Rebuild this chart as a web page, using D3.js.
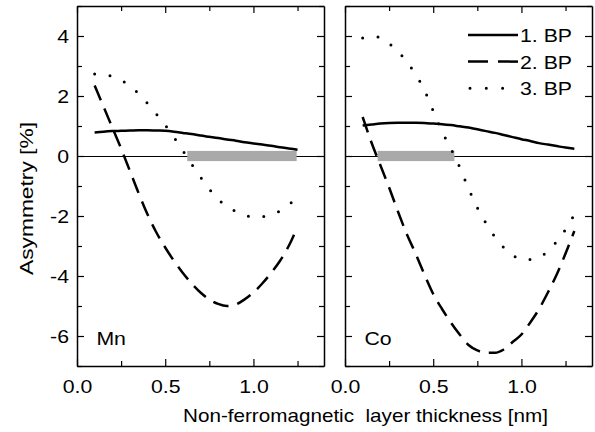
<!DOCTYPE html>
<html>
<head>
<meta charset="utf-8">
<script src="https://cdn.jsdelivr.net/npm/d3@7"></script>
<style>
  body { margin: 0; background: #fff; }
  text { font-family: "Liberation Sans", Arial, Helvetica, sans-serif; fill: #000; }
</style>
</head>
<body>
<svg id="chart" width="595" height="432"></svg>
<script>
// thickness samples [nm]
const thickness = [0.1, 0.15, 0.2, 0.25, 0.3, 0.35, 0.4, 0.45, 0.5, 0.55, 0.6, 0.65,
                   0.7, 0.75, 0.8, 0.85, 0.9, 0.95, 1.0, 1.05, 1.1, 1.15, 1.2, 1.25];
const thicknessCo = thickness.concat([1.3]);

// Mn panel, asymmetry [%]
const mnBP1 = [0.78, 0.81, 0.83, 0.84, 0.85, 0.86, 0.86, 0.85, 0.84, 0.81, 0.77, 0.73,
               0.68, 0.64, 0.6, 0.55, 0.51, 0.46, 0.42, 0.38, 0.34, 0.29, 0.25, 0.21];
const mnBP2 = [2.35, 1.65, 0.95, 0.25, -0.5, -1.25, -1.95, -2.55, -3.05, -3.5, -3.9, -4.25,
               -4.55, -4.78, -4.93, -5.0, -4.95, -4.78, -4.55, -4.25, -3.9, -3.5, -3.0, -2.35];
const mnBP3 = [2.73, 2.71, 2.65, 2.52, 2.35, 2.07, 1.75, 1.4, 1.03, 0.62, 0.18, -0.27,
               -0.7, -1.1, -1.44, -1.68, -1.85, -1.97, -2.03, -2.02, -1.95, -1.83, -1.62, -1.38];

// Co panel, asymmetry [%]
const coBP1 = [1.02, 1.05, 1.08, 1.1, 1.11, 1.11, 1.11, 1.1, 1.08, 1.06, 1.03, 0.99,
               0.95, 0.89, 0.83, 0.77, 0.7, 0.63, 0.56, 0.5, 0.43, 0.38, 0.33, 0.28, 0.24];
const coBP2 = [1.3, 0.45, -0.3, -1.05, -1.85, -2.6, -3.25, -3.95, -4.6, -5.1, -5.55, -5.95,
               -6.3, -6.48, -6.56, -6.56, -6.45, -6.2, -5.95, -5.55, -5.1, -4.55, -3.95, -3.25, -2.5];
const coBP3 = [3.93, 3.98, 3.95, 3.75, 3.48, 3.15, 2.72, 2.2, 1.5, 0.82, 0.25, -0.37,
               -1.08, -1.72, -2.25, -2.7, -3.05, -3.3, -3.45, -3.45, -3.38, -3.17, -2.85, -2.45, -1.95];

// grey ranges on the zero line [nm]
const mnRange = [0.625, 1.245];
const coRange = [0.185, 0.62];

const seriesNames = ["1. BP", "2. BP", "3. BP"];
const xTicks = [0, 0.5, 1.0];
const yTicks = [-6, -4, -2, 0, 2, 4];

const svg = d3.select('#chart');
const plotTop = 6, plotBottom = 366;
const panelW = 247;
const fontSize = 19;
const stretch = 1.12; // the original lettering is a bit wider than Arial

const y = d3.scaleLinear().domain([-7, 5]).range([plotBottom, plotTop]);

const styles = [
  { width: 2.5, dash: null, cap: 'butt' },
  { width: 2.5, dash: '16,9', cap: 'butt' },
  { width: 3, dash: '0,15.5', cap: 'round' }
];

// text that is stretched sideways around its anchor point
function addText(parent, x, yy, str, anchor) {
  return parent.append('text')
    .attr('transform', `translate(${x},${yy}) scale(${stretch},1)`)
    .attr('text-anchor', anchor || 'start')
    .style('font-size', fontSize + 'px')
    .text(str);
}

function drawPanel(left, xsArr, series, range, label, showY) {
  const x = d3.scaleLinear().domain([0, 1.4]).range([left, left + panelW]);
  const g = svg.append('g');

  // zero line
  g.append('line')
    .attr('x1', x(0)).attr('x2', x(1.4))
    .attr('y1', y(0) + 0.5).attr('y2', y(0) + 0.5)
    .attr('stroke', '#000').attr('stroke-width', 1);

  // grey bar
  g.append('rect')
    .attr('x', x(range[0])).attr('width', x(range[1]) - x(range[0]))
    .attr('y', y(0.17)).attr('height', y(-0.17) - y(0.17))
    .attr('fill', '#a9a9a9');

  const line = d3.line()
    .x((d, i) => x(xsArr[i]))
    .y(d => y(d))
    .curve(d3.curveMonotoneX);

  series.forEach((s, k) => {
    g.append('path')
      .attr('d', line(s))
      .attr('fill', 'none')
      .attr('stroke', '#000')
      .attr('stroke-width', styles[k].width)
      .attr('stroke-dasharray', styles[k].dash)
      .attr('stroke-linecap', styles[k].cap);
  });

  // axes with inward ticks on all sides
  const tickX = d3.range(0, 1.41, 0.25);
  const minorY = d3.range(-7, 5.01, 1);
  const isMajorX = d => Math.abs(d * 2 - Math.round(d * 2)) < 1e-6;
  const isMajorY = d => d % 2 === 0;

  const axB = g.append('g').attr('transform', `translate(0,${plotBottom})`)
    .call(d3.axisBottom(x).tickValues(tickX).tickSizeOuter(0).tickFormat(''));
  axB.selectAll('.tick line').attr('y2', d => isMajorX(d) ? -7 : -5);
  axB.selectAll('.tick').each(function (d) {
    if (xTicks.some(t => Math.abs(t - d) < 1e-6)) {
      addText(d3.select(this), 0, 27, d3.format('.1f')(d), 'middle');
    }
  });

  const axT = g.append('g').attr('transform', `translate(0,${plotTop})`)
    .call(d3.axisTop(x).tickValues(tickX).tickSizeOuter(0).tickFormat(''));
  axT.selectAll('.tick line').attr('y2', d => isMajorX(d) ? 7 : 5);

  const axL = g.append('g').attr('transform', `translate(${left},0)`)
    .call(d3.axisLeft(y).tickValues(minorY).tickSizeOuter(0).tickFormat(''));
  axL.selectAll('.tick line').attr('x2', d => isMajorY(d) ? 7 : 5);
  if (showY) {
    axL.selectAll('.tick').each(function (d) {
      if (yTicks.includes(d)) addText(d3.select(this), -8, 6, d, 'end');
    });
  }

  const axR = g.append('g').attr('transform', `translate(${left + panelW},0)`)
    .call(d3.axisRight(y).tickValues(minorY).tickSizeOuter(0).tickFormat(''));
  axR.selectAll('.tick line').attr('x2', d => isMajorY(d) ? -7 : -5);

  g.selectAll('.domain').attr('stroke', '#000').attr('stroke-width', 1.5);
  g.selectAll('.tick line').attr('stroke', '#000').attr('stroke-width', 1.2);

  addText(g, x(0.11), y(-6) + 9, label, 'start');

  return x;
}

drawPanel(77, thickness, [mnBP1, mnBP2, mnBP3], mnRange, 'Mn', true);
drawPanel(345, thicknessCo, [coBP1, coBP2, coBP3], coRange, 'Co', false);

// legend
const legend = svg.append('g');
const legendDash = [null, '20,10', '0,16.3'];
seriesNames.forEach((name, k) => {
  const ly = y(4) - 1 + k * 26.6;
  legend.append('line')
    .attr('x1', k === 2 ? 470 : 468).attr('x2', 518)
    .attr('y1', ly).attr('y2', ly)
    .attr('stroke', '#000')
    .attr('stroke-width', styles[k].width)
    .attr('stroke-dasharray', legendDash[k])
    .attr('stroke-linecap', styles[k].cap);
  addText(legend, 520, ly + 7, name, 'start');
});

// axis titles
svg.append('text')
  .attr('x', 183).attr('y', 422)
  .attr('textLength', 365)
  .attr('lengthAdjust', 'spacingAndGlyphs')
  .style('font-size', fontSize + 'px')
  .style('white-space', 'pre')
  .text('Non-ferromagnetic  layer thickness [nm]');

svg.append('text')
  .attr('transform', 'translate(33,275) rotate(-90)')
  .attr('textLength', 153)
  .attr('lengthAdjust', 'spacingAndGlyphs')
  .style('font-size', fontSize + 'px')
  .text('Asymmetry [%]');
</script>
</body>
</html>
